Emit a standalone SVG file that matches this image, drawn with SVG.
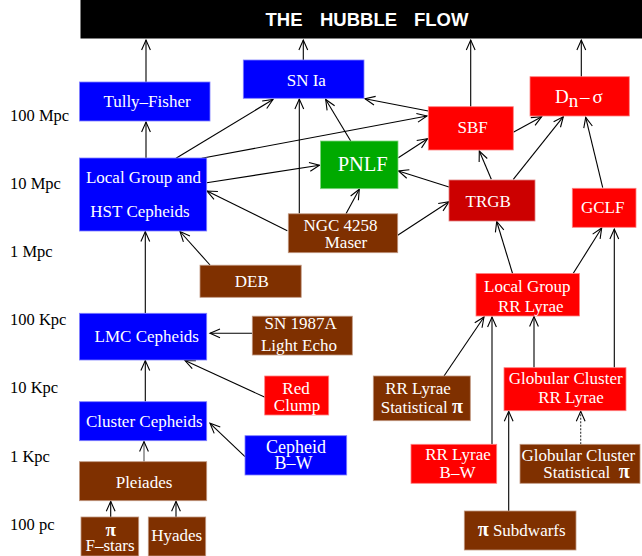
<svg xmlns="http://www.w3.org/2000/svg" width="642" height="556" viewBox="0 0 642 556">
<defs>
<marker id="ah" markerUnits="userSpaceOnUse" markerWidth="14" markerHeight="12" refX="11" refY="6" orient="auto">
<path d="M1,1.6 L11,6 L1,10.4" fill="none" stroke="#000" stroke-width="1.1"/>
</marker>
<style>
.bl{fill:#0000ff;stroke:#8080ff;stroke-width:0.8}
.rd{fill:#ff0000;stroke:#ff8080;stroke-width:0.8}
.dr{fill:#cc0000;stroke:#e08080;stroke-width:0.8}
.br{fill:#7f3000;stroke:#c09880;stroke-width:0.8}
.gr{fill:#00aa00;stroke:#80d480;stroke-width:0.8}
.t{font-family:"Liberation Serif","Times New Roman",serif;font-size:17px;fill:#fff;text-anchor:middle}
.ts{font-family:"Liberation Serif","Times New Roman",serif;font-size:17px;fill:#fff}
.ax{font-family:"Liberation Serif","Times New Roman",serif;font-size:16.5px;fill:#000}
.pi{font-family:"Liberation Serif",serif;font-weight:bold;font-size:20px}
#conn line{stroke:#000;stroke-width:1.1;fill:none;marker-end:url(#ah)}
</style>
</defs>
<rect width="642" height="556" fill="#fff"/>

<g id="axis">
<text class="ax" x="10" y="121">100 Mpc</text>
<text class="ax" x="10" y="189">10 Mpc</text>
<text class="ax" x="10" y="257">1 Mpc</text>
<text class="ax" x="10" y="325">100 Kpc</text>
<text class="ax" x="10" y="393">10 Kpc</text>
<text class="ax" x="10" y="461.5">1 Kpc</text>
<text class="ax" x="10" y="530">100 pc</text>
</g>

<g id="conn">
<line x1="146" y1="82" x2="146" y2="40"/>
<line x1="303.3" y1="60" x2="303.3" y2="40"/>
<line x1="470.7" y1="107" x2="470.7" y2="40"/>
<line x1="581.3" y1="77" x2="581.3" y2="40"/>
<line x1="146" y1="158" x2="146" y2="122"/>
<line x1="176" y1="158.3" x2="273" y2="99.5"/>
<line x1="201.7" y1="158.3" x2="427" y2="116"/>
<line x1="206.7" y1="182.7" x2="319.5" y2="165.3"/>
<line x1="350.7" y1="141" x2="325.7" y2="99.5"/>
<line x1="428.3" y1="111" x2="365" y2="98.8"/>
<line x1="299.3" y1="213.5" x2="299.3" y2="99"/>
<line x1="398.3" y1="157.7" x2="427.5" y2="138.7"/>
<line x1="449" y1="187" x2="398.5" y2="171"/>
<line x1="346" y1="213.7" x2="359.3" y2="189.3"/>
<line x1="397.7" y1="235.3" x2="449" y2="201.7"/>
<line x1="287.3" y1="230.7" x2="207" y2="191"/>
<line x1="513.3" y1="132.3" x2="541.7" y2="116.7"/>
<line x1="491.3" y1="179.3" x2="479.3" y2="151"/>
<line x1="513.3" y1="179.3" x2="563.3" y2="116.7"/>
<line x1="602.7" y1="187.7" x2="585.7" y2="117.3"/>
<line x1="210" y1="265" x2="180" y2="231.5"/>
<line x1="145.3" y1="313.3" x2="145.3" y2="231.5"/>
<line x1="512.7" y1="274" x2="496.7" y2="221.5"/>
<line x1="573.3" y1="273.3" x2="601.7" y2="228"/>
<line x1="614.3" y1="367.7" x2="614.3" y2="229"/>
<line x1="252.3" y1="333.3" x2="210" y2="333.3"/>
<line x1="265" y1="397.3" x2="185" y2="360.5"/>
<line x1="145.3" y1="401.7" x2="145.3" y2="360.5"/>
<line x1="245" y1="456.7" x2="210" y2="423.3"/>
<line x1="144" y1="461.7" x2="144" y2="441.5" style="stroke:#555"/>
<line x1="110.7" y1="517" x2="110.7" y2="501.3"/>
<line x1="176" y1="517" x2="176" y2="501.3"/>
<line x1="444" y1="376" x2="484" y2="317"/>
<line x1="492" y1="444.3" x2="492" y2="317"/>
<line x1="534" y1="367.7" x2="534" y2="316.5"/>
<line x1="580.7" y1="444.3" x2="580.7" y2="411.3" style="stroke:#333;stroke-dasharray:2,1.5"/>
<line x1="508.7" y1="511" x2="508.7" y2="411.3"/>
</g>

<g id="hubble">
<rect x="80.5" y="0" width="561.5" height="38.5" fill="#000"/>
<text y="26" style="font-family:'Liberation Sans',Arial,sans-serif;font-weight:bold;font-size:18.5px;fill:#fff"><tspan x="265.5">THE</tspan><tspan x="320">HUBBLE</tspan><tspan x="414">FLOW</tspan></text>
</g>

<g id="tully"><rect class="bl" x="79.5" y="82" width="130.5" height="39"/><text class="t" x="147" y="106.7">Tully–Fisher</text></g>
<g id="snia"><rect class="bl" x="243.3" y="60" width="120.7" height="38.3"/><text class="t" x="306.3" y="85.7">SN Ia</text></g>
<g id="sbf"><rect class="rd" x="428.3" y="106.7" width="85" height="43.3"/><text class="t" x="472.7" y="133.3">SBF</text></g>
<g id="dnsigma"><rect class="rd" x="530" y="76.7" width="99.3" height="39.3"/><text class="ts" x="555" y="102.7" style="font-size:19px">D<tspan dy="4">n</tspan><tspan x="580" dy="-4">–</tspan><tspan x="592.5">σ</tspan></text></g>
<g id="pnlf"><rect class="gr" x="320.5" y="141" width="77.5" height="47.7"/><text class="t" x="362.7" y="170.7" style="font-size:20.5px">PNLF</text></g>
<g id="localgroup"><rect class="bl" x="79.5" y="158" width="127.2" height="73"/><text class="t" x="143.5" y="183.3">Local Group and</text><text class="t" x="140" y="217.3">HST Cepheids</text></g>
<g id="maser"><rect class="br" x="288.3" y="213.8" width="109.4" height="38.9"/><text class="t" x="340.5" y="230.7">NGC 4258</text><text class="t" x="346" y="247.7">Maser</text></g>
<g id="trgb"><rect class="dr" x="449" y="180" width="86" height="41"/><text class="t" x="488.2" y="206.7">TRGB</text></g>
<g id="gclf"><rect class="rd" x="572.3" y="188.3" width="63.7" height="39"/><text class="t" x="602.7" y="213.3">GCLF</text></g>
<g id="deb"><rect class="br" x="200" y="265.2" width="101.2" height="32.1"/><text class="t" x="251.8" y="286.7">DEB</text></g>
<g id="lgrrlyrae"><rect class="rd" x="476" y="273.5" width="103.5" height="42.5"/><text class="t" x="527.3" y="292">Local Group</text><text class="t" x="530.7" y="311.5">RR Lyrae</text></g>
<g id="lmc"><rect class="bl" x="79.5" y="313.3" width="127.2" height="46.7"/><text class="t" x="146.8" y="341.7">LMC Cepheids</text></g>
<g id="sn1987a"><rect class="br" x="252.3" y="316.2" width="100" height="38.8"/><text class="t" x="300.7" y="329.3">SN 1987A</text><text class="t" x="299" y="350.7">Light Echo</text></g>
<g id="redclump"><rect class="rd" x="264.7" y="376" width="64" height="39"/><text class="t" x="296" y="393.5">Red</text><text class="t" x="297" y="411">Clump</text></g>
<g id="rrstatpi"><rect class="br" x="373.3" y="376" width="97" height="44.7"/><text class="t" x="418" y="394.3">RR Lyrae</text><text class="ts" x="380.7" y="413.3">Statistical <tspan class="pi">π</tspan></text></g>
<g id="gcrrlyrae"><rect class="rd" x="504" y="367.7" width="122" height="43"/><text class="t" x="565.7" y="384">Globular Cluster</text><text class="t" x="571" y="403.3">RR Lyrae</text></g>
<g id="clustercepheids"><rect class="bl" x="79.5" y="401.7" width="127.2" height="39"/><text class="t" x="144.3" y="426.7">Cluster Cepheids</text></g>
<g id="cepheidbw"><rect class="bl" x="245" y="435.7" width="101.7" height="39.3"/><text class="t" x="296" y="452.5" style="font-size:18px">Cepheid</text><text class="t" x="293.5" y="469" style="font-size:18px">B–W</text></g>
<g id="rrbw"><rect class="rd" x="411" y="444.3" width="85.7" height="39"/><text class="t" x="458" y="460">RR Lyrae</text><text class="t" x="457.5" y="477.7">B–W</text></g>
<g id="gcstatpi"><rect class="br" x="520" y="444.3" width="120" height="39"/><text class="t" x="578.3" y="461.3">Globular Cluster</text><text class="ts" x="543.3" y="478.3" xml:space="preserve">Statistical  <tspan class="pi">π</tspan></text></g>
<g id="pleiades"><rect class="br" x="79.5" y="461.7" width="127.2" height="39"/><text class="t" x="144" y="487.7">Pleiades</text></g>
<g id="fstars"><rect class="br" x="81" y="517" width="57.7" height="39"/><text class="t" x="110.7" y="535.5" style="font-size:19px;font-weight:bold">π</text><text class="t" x="110" y="550.5">F–stars</text></g>
<g id="hyades"><rect class="br" x="148.3" y="517" width="57.4" height="39"/><text class="t" x="176.7" y="540.7">Hyades</text></g>
<g id="subdwarfs"><rect class="br" x="464.3" y="511" width="111.7" height="39"/><text class="ts" x="477.7" y="536"><tspan class="pi">π</tspan> Subdwarfs</text></g>
</svg>
